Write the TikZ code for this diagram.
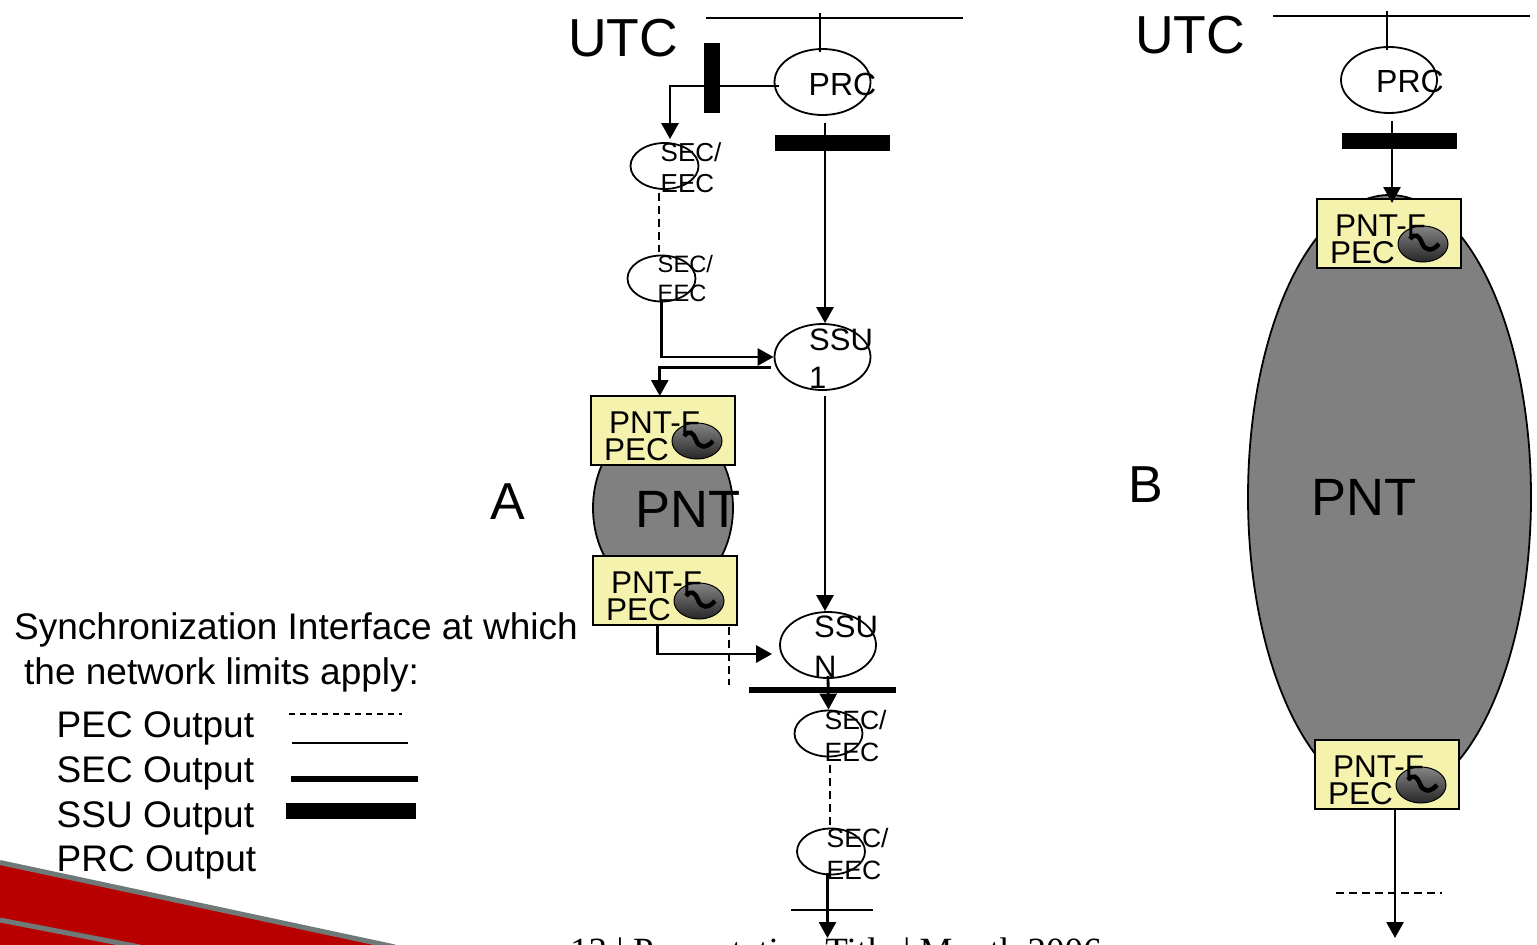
\documentclass[tikz,border=0pt]{standalone}
\usepackage{fontspec}
\usepackage{tikz}
\usetikzlibrary{arrows.meta,shapes.geometric}
\setmainfont{Liberation Sans}
\newfontfamily\footfont{Liberation Serif}

\begin{document}
\begin{tikzpicture}[x=1pt,y=-1pt]
  \tikzset {
    clock/.style={
      ellipse,
      draw=black,
      line width=1.8pt,
      inner sep=0pt
    },
    txt/.style={
      anchor=base west,
      inner sep=0pt,
      font=\fontsize{#1}{#1}\selectfont
    },
    pecbox/.style={
      rectangle,
      draw=black,
      line width=2pt,
      outer sep=0pt,
      fill=pecyellow,
      anchor=north west,
      minimum width=143.5pt,
      minimum height=68.5pt
    },
    osc/.style={
      ellipse,
      draw=black,
      line width=1pt,
      top color=black!48,
      bottom color=black!85,
      minimum width=50pt,
      minimum height=36pt,
      inner sep=0pt
    },
    cloud/.style={
      ellipse,
      draw=black,
      line width=1.8pt,
      fill=cloudgray,
      inner sep=0pt
    },
    bar/.style={fill=black},
    thinline/.style={line width=2pt},
    dashline/.style={line width=2pt, dash pattern=on 8pt off 5pt},
    flow/.style={line width=2.8pt, ->},
    >={Triangle[length=16pt,width=17pt]}
  }
  \definecolor{pecyellow}{HTML}{F5F2AE}
  \definecolor{cloudgray}{HTML}{808080}
  \definecolor{bannerred}{HTML}{B80000}
  \definecolor{bannergray}{HTML}{6F7A78}
  \useasboundingbox (0,0) rectangle (1537,945);

  % banner
  \fill[bannerred] (0,862) -- (395,947) -- (0,947) -- cycle;
  \draw[bannergray, line width=5pt] (0,862.5) -- (395,947);
  \draw[bannergray, line width=5pt] (0,920) -- (140,947);
  \node[txt=37, font=\footfont\fontsize{37}{37}\selectfont] (foot) at (570,963) {13 | Presentation Title | Month 2006};

  % network clouds
  \node[cloud, minimum width=140pt, minimum height=176pt] (pntA) at (663,508) {};
  \node[cloud, minimum width=283pt, minimum height=604pt] (pntB) at (1389.5,497) {};
  \node[txt=52.5] (pntAtxt) at (635,527) {PNT};
  \node[txt=52.5] (pntBtxt) at (1311,515) {PNT};

  % clocks
  \node[clock, minimum width=96pt, minimum height=66pt] (prcA) at (822.5,82) {};
  \node[clock, minimum width=96pt, minimum height=66pt] (prcB) at (1389,80) {};
  \node[clock, minimum width=68pt, minimum height=46pt] (secA) at (664.5,166) {};
  \node[clock, minimum width=68pt, minimum height=46pt] (secB) at (661.5,278.5) {};
  \node[clock, minimum width=68pt, minimum height=46pt] (secC) at (828.5,733.5) {};
  \node[clock, minimum width=68pt, minimum height=46pt] (secD) at (831,851.5) {};
  \node[clock, minimum width=96pt, minimum height=66pt] (ssuA) at (822.5,357) {};
  \node[clock, minimum width=96pt, minimum height=66pt] (ssuB) at (828,645) {};

  \node[txt=32] (prcAtxt) at (808.5,95) {PRC};
  \node[txt=32] (prcBtxt) at (1376,92) {PRC};
  \node[txt=26] (secAtxt) at (660.5,161) {SEC/};
  \node[txt=26] (secAtxtb) at (660.5,192) {EEC};
  \node[txt=23.7] (secBtxt) at (657.5,272) {SEC/};
  \node[txt=23.7] (secBtxtb) at (657.5,301) {EEC};
  \node[txt=26.5] (secCtxt) at (824.5,729) {SEC/};
  \node[txt=26.5] (secCtxtb) at (824.5,761) {EEC};
  \node[txt=26.5] (secDtxt) at (826.5,847) {SEC/};
  \node[txt=26.5] (secDtxtb) at (826.5,879) {EEC};
  \node[txt=31] (ssuAtxt) at (809,350) {SSU};
  \node[txt=31] (ssuAtxtb) at (809,388) {1};
  \node[txt=31] (ssuBtxt) at (814,637) {SSU};
  \node[txt=31] (ssuBtxtb) at (814,677) {N};

  % PEC boxes
  \foreach \name/\x/\y in {A/591/396, B/593/556, C/1317/199, D/1315/740} {
    \node[pecbox] (pec\name) at (\x,\y) {};
    \node[osc] (osc\name) at (\x+106,\y+45) {};
    \draw[line width=4.5pt] (\x+93,\y+40) .. controls (\x+98,\y+34) and (\x+102,\y+36) .. (\x+105,\y+44)
      .. controls (\x+108,\y+52) and (\x+115,\y+53) .. (\x+122,\y+45);
    \node[txt=31.5] (pnt\name f) at (\x+18,\y+37) {PNT-F};
    \node[txt=31.5] (pec\name txt) at (\x+13,\y+64) {PEC};
  }

  % big labels
  \node[txt=53.5] (utcA) at (568,56) {UTC};
  \node[txt=53.5] (utcB) at (1135,53) {UTC};
  \node[txt=52] (labA) at (490,519) {A};
  \node[txt=52] (labB) at (1128,502) {B};

  % free ends
  \coordinate (busAl) at (706,17.5);
  \coordinate (busAr) at (963,17.5);
  \coordinate (busBl) at (1273,15.5);
  \coordinate (busBr) at (1530,15.5);
  \coordinate (tickA) at (820,13);
  \coordinate (tickB) at (1387,11);
  \coordinate (limA) at (729,685);
  \coordinate (limBl) at (749,690);
  \coordinate (limBr) at (896,690);
  \coordinate (limCl) at (791,910);
  \coordinate (limCr) at (873,910);
  \coordinate (limDl) at (1336,893);
  \coordinate (limDr) at (1442,893);
  \coordinate (endA) at (827.5,938);
  \coordinate (endB) at (1395,938);

  % output bars
  \fill[bar] (704,43) rectangle (720,113);
  \fill[bar] (775,135) rectangle (890,151);
  \fill[bar] (1342,133) rectangle (1457,149);
  \path (limBl) edge[line width=6pt] (limBr);

  % left chain
  \path (busAl) edge[thinline] (busAr);
  \path (tickA) edge[thinline] ([xshift=-2.5pt,yshift=-4pt]prcA.north);
  \draw[flow] ([xshift=5pt,yshift=-4pt]prcA.west) -| ([xshift=5.5pt,yshift=3pt]secA.north);
  \path ([xshift=2.5pt,yshift=-7pt]prcA.south) edge[flow] ([xshift=2.5pt]ssuA.north);
  \path ([xshift=-5.5pt,yshift=-3pt]secA.south) edge[dashline] ([xshift=-2.5pt,yshift=3pt]secB.north);
  \draw[flow] (secB.south) |- (ssuA.west);
  \draw[flow] ([xshift=-3pt,yshift=-10.5pt]ssuA.west) -| ([xshift=-3pt]pecA.north);
  \path ([xshift=2.5pt,yshift=-5pt]ssuA.south) edge[flow] ([xshift=-3pt]ssuB.north);
  \draw[flow] ([xshift=-7.5pt]pecB.south) |- ([xshift=-7pt,yshift=-9pt]ssuB.west);
  \path ([xshift=-7.5pt,yshift=-2pt]pecB.south east) edge[dashline] (limA);
  \path ([yshift=3pt]ssuB.south) edge[flow] (secC.north);
  \path ([xshift=1.5pt,yshift=-8pt]secC.south) edge[dashline] ([xshift=-1pt,yshift=-3pt]secD.north);
  \path ([xshift=-3.5pt,yshift=2pt]secD.south) edge[flow] (endA);
  \path (limCl) edge[thinline] (limCr);

  % right chain
  \path (busBl) edge[thinline] (busBr);
  \path (tickB) edge[thinline] ([xshift=-2pt,yshift=-4pt]prcB.north);
  \path ([xshift=3pt,yshift=-7pt]prcB.south) edge[flow] ([xshift=3.25pt,yshift=-4pt]pecC.north);
  \path ([xshift=8.25pt]pecD.south) edge[flow] (endB);
  \path (limDl) edge[dashline] (limDr);

  % legend
  \node[txt=37] (syncA) at (14,639) {Synchronization Interface at which};
  \node[txt=37] (syncB) at (24,684) {the network limits apply:};
  \node[txt=37] (legPec) at (56.5,737) {PEC Output};
  \node[txt=37] (legSec) at (56.5,782) {SEC Output};
  \node[txt=37] (legSsu) at (56.5,827) {SSU Output};
  \node[txt=37] (legPrc) at (56.5,871) {PRC Output};
  \draw[line width=1.5pt, dash pattern=on 6pt off 5pt] (289,714) -- (402,714);
  \draw[thinline] (292,743) -- (408,743);
  \draw[line width=6pt] (291,778.5) -- (418,778.5);
  \fill[bar] (286,803) rectangle (416,819);

\end{tikzpicture}
\end{document}
